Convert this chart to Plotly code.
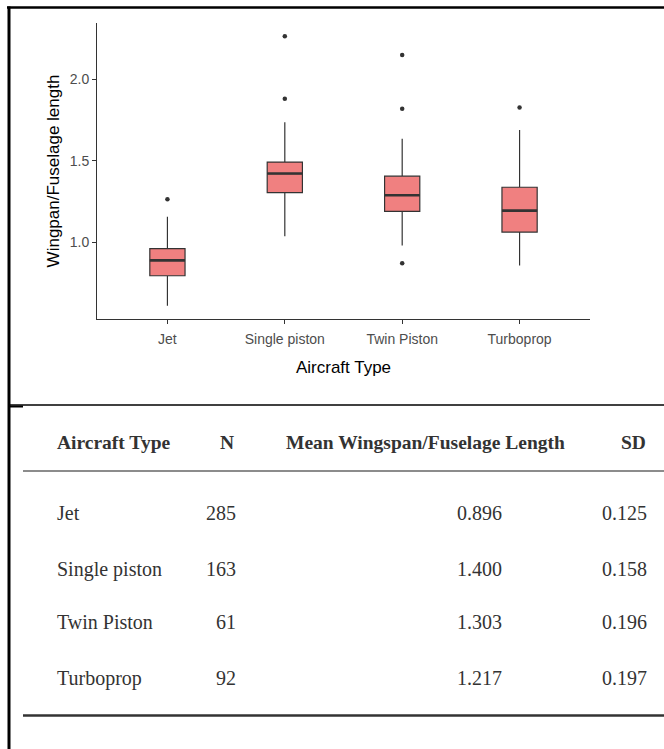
import plotly.graph_objects as go

# ---------------- data ----------------
categories = ["Jet", "Single piston", "Twin Piston", "Turboprop"]
q1 = [0.797, 1.305, 1.191, 1.064]
medians = [0.891, 1.422, 1.289, 1.195]
q3 = [0.963, 1.492, 1.406, 1.338]
lower_whisker = [0.613, 1.039, 0.982, 0.859]
upper_whisker = [1.158, 1.735, 1.635, 1.689]
outliers = [[1.265], [1.879, 2.262], [0.873, 1.818, 2.147], [1.826]]
y_tick_values = [1.0, 1.5, 2.0]

table_headers = ["Aircraft Type", "N", "Mean Wingspan/Fuselage Length", "SD"]
table_n = [285, 163, 61, 92]
table_mean = [0.896, 1.400, 1.303, 1.217]
table_sd = [0.125, 0.158, 0.196, 0.197]

# ---------------- layout helpers ----------------
W, H = 664, 749


def px(x):
    return x / W


def py(y):
    return 1 - y / H


xs = list(range(len(categories)))
box_w = 0.3

all_vals = lower_whisker + upper_whisker + [v for o in outliers for v in o]
lo, hi = min(all_vals), max(all_vals)
pad = (hi - lo) * 0.05
y_range = [lo - pad, hi + pad]

fig = go.Figure()

fig.add_trace(go.Box(
    x=xs, q1=q1, median=medians, q3=q3,
    lowerfence=lower_whisker, upperfence=upper_whisker,
    width=box_w, whiskerwidth=0, boxpoints=False,
    fillcolor="#F08080", line=dict(color="#333333", width=1.2),
    showlegend=False, hoverinfo="skip",
))

# thicker median lines (ggplot style)
mx, my = [], []
for i, m in zip(xs, medians):
    mx += [i - box_w / 2, i + box_w / 2, None]
    my += [m, m, None]
fig.add_trace(go.Scatter(x=mx, y=my, mode="lines",
                         line=dict(color="#333333", width=2.6),
                         showlegend=False, hoverinfo="skip"))

ox, oy = [], []
for i, o in zip(xs, outliers):
    for v in o:
        ox.append(i)
        oy.append(v)
fig.add_trace(go.Scatter(x=ox, y=oy, mode="markers",
                         marker=dict(color="#333333", size=4.5),
                         showlegend=False, hoverinfo="skip"))

sans = "Liberation Sans, Arial, sans-serif"
serif = "Liberation Serif, Times New Roman, serif"

fig.update_layout(
    width=W, height=H,
    margin=dict(l=0, r=0, t=0, b=0),
    paper_bgcolor="white", plot_bgcolor="white",
    font=dict(family=sans),
    xaxis=dict(
        domain=[px(97), px(590)],
        range=[-0.6, len(categories) - 0.4],
        tickmode="array", tickvals=xs, ticktext=categories,
        showline=True, linecolor="#333333", linewidth=1,
        ticks="outside", ticklen=4, tickcolor="#333333", tickwidth=1,
        ticklabelstandoff=3,
        tickfont=dict(size=14, color="#4D4D4D", family=sans),
        showgrid=False, zeroline=False,
        title=dict(text="Aircraft Type", font=dict(size=17, color="black", family=sans),
                   standoff=15),
    ),
    yaxis=dict(
        domain=[py(319.3), py(22.7)],
        range=y_range,
        tickmode="array", tickvals=y_tick_values,
        ticktext=[f"{v:.1f}" for v in y_tick_values],
        showline=True, linecolor="#333333", linewidth=1,
        ticks="outside", ticklen=4, tickcolor="#333333", tickwidth=1,
        tickfont=dict(size=14, color="#4D4D4D", family=sans),
        showgrid=False, zeroline=False,
        title=dict(text="Wingpan/Fuselage length", font=dict(size=17, color="black", family=sans),
                   standoff=5),
    ),
)

# ---------------- frame / table lines ----------------
shapes = [
    dict(type="line", xref="paper", yref="paper", x0=px(7), x1=1, y0=py(7.5), y1=py(7.5),
         line=dict(color="black", width=2.5)),
    dict(type="line", xref="paper", yref="paper", x0=px(9), x1=px(9), y0=py(6.5), y1=0,
         line=dict(color="black", width=3)),
    dict(type="line", xref="paper", yref="paper", x0=px(9), x1=1, y0=py(405), y1=py(405),
         line=dict(color="black", width=1.5)),
    dict(type="line", xref="paper", yref="paper", x0=px(9), x1=px(23), y0=py(406.5), y1=py(406.5),
         line=dict(color="black", width=2)),
    dict(type="line", xref="paper", yref="paper", x0=px(23), x1=1, y0=py(471), y1=py(471),
         line=dict(color="#666666", width=1.5)),
    dict(type="line", xref="paper", yref="paper", x0=px(23), x1=1, y0=py(715.5), y1=py(715.5),
         line=dict(color="#333333", width=2.5)),
]
fig.update_layout(shapes=shapes)

# ---------------- table text ----------------
ann = []
hdr_y = 442
hfont = dict(family=serif, size=19.5, color="#333333")
ann.append(dict(text="<b>%s</b>" % table_headers[0], x=px(55), y=py(hdr_y), xanchor="left"))
ann.append(dict(text="<b>%s</b>" % table_headers[1], x=px(227), y=py(hdr_y), xanchor="center"))
ann.append(dict(text="<b>%s</b>" % table_headers[2], x=px(425), y=py(hdr_y), xanchor="center"))
ann.append(dict(text="<b>%s</b>" % table_headers[3], x=px(633), y=py(hdr_y), xanchor="center"))
for a in ann:
    a.update(xref="paper", yref="paper", yanchor="middle", showarrow=False, font=hfont)

row_y = [513, 569, 622, 678]
bfont = dict(family=serif, size=20, color="#333333")
for cat, n, m, s, yy in zip(categories, table_n, table_mean, table_sd, row_y):
    for text, x, anchor in [(cat, 55, "left"), (str(n), 238, "right"),
                            (f"{m:.3f}", 504, "right"), (f"{s:.3f}", 649, "right")]:
        ann.append(dict(text=text, x=px(x), y=py(yy), xref="paper", yref="paper",
                        xanchor=anchor, yanchor="middle", showarrow=False, font=bfont))

fig.update_layout(annotations=ann)

fig.write_html("out.html", config={"displayModeBar": False},
               post_script="document.body.style.margin='0';")
